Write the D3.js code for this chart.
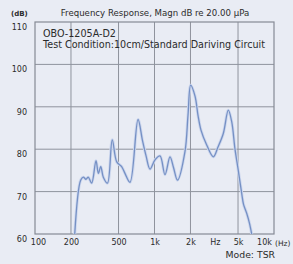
<!DOCTYPE html>
<html>
<head>
<meta charset="utf-8">
<script src="https://cdn.jsdelivr.net/npm/d3@7"></script>
<style>
    body { margin: 0; background: #e9ecf4; }
    text { font-family: "DejaVu Sans", sans-serif; fill: #2b2b2b; }
</style>
</head>
<body>
<svg id="chart"></svg>
<script>
"use strict";

// frequency response
const freqs = [214, 241, 254, 267, 279, 298, 324, 339, 355, 373, 404, 443, 483, 531, 566, 624,
    728, 794, 849, 917, 1010, 1112, 1224, 1348, 1442, 1557, 1800, 1907, 2009, 2183, 2312, 2449,
    2734, 3105, 3398, 3765, 4146, 4426, 4717, 5025, 5367, 5559, 5908, 6237, 6607]
const levels = [59, 72.7, 73.4, 72.9, 73.4, 72.0, 77.3, 74.3, 75.9, 73.4, 72.0, 82.2, 77.0, 75.9, 74.3, 72.2,
    87.0, 82.0, 78.5, 75.3, 77.5, 78.4, 74.0, 78.2, 75.7, 72.7, 79.5, 88.0, 95.1, 92.5, 88.0, 84.5,
    81.0, 78.2, 80.5, 83.7, 89.2, 86.5, 80.0, 75.0, 69.6, 67.0, 64.9, 62.5, 59]

const gridFreqs = [200, 500, 1000, 2000, 5000]
const gridLevels = [70, 80, 90, 100]
const yTicks = [60, 70, 80, 90, 100, 110]
const xTickFreqs = [100, 200, 500, 1000, 2000, 3200, 5000, 10000]
const xTickLabels = ["100", "200", "500", "1k", "2k", "Hz", "5k", "10k"]

const width = 293
const height = 264

const svg = d3.select("#chart")
    .attr("width", width)
    .attr("height", height)

svg.append("rect")
    .attr("width", width)
    .attr("height", height)
    .attr("fill", "#e9ecf4")

// scales
const x = d3.scaleLog().domain([100, 10000]).range([35, 274])
const y = d3.scaleLinear().domain([60, 110]).range([234, 22])

// grid
svg.append("g")
    .selectAll("line")
    .data(gridFreqs)
    .enter().append("line")
    .attr("x1", d => x(d))
    .attr("x2", d => x(d))
    .attr("y1", y(110))
    .attr("y2", y(60))
    .attr("stroke", "#8f939d")
    .attr("stroke-width", 1)

svg.append("g")
    .selectAll("line")
    .data(gridLevels)
    .enter().append("line")
    .attr("x1", x(100))
    .attr("x2", x(10000))
    .attr("y1", d => y(d))
    .attr("y2", d => y(d))
    .attr("stroke", "#8f939d")
    .attr("stroke-width", 1)

// frame
svg.append("rect")
    .attr("x", x(100))
    .attr("y", y(110))
    .attr("width", x(10000) - x(100))
    .attr("height", y(60) - y(110))
    .attr("fill", "none")
    .attr("stroke", "#868a94")
    .attr("stroke-width", 1.2)

// clip for the curve
svg.append("clipPath")
    .attr("id", "plot-clip")
    .append("rect")
    .attr("x", x(100))
    .attr("y", y(110))
    .attr("width", x(10000) - x(100))
    .attr("height", y(60) - y(110))

const points = freqs.map((f, i) => ({ f: f, db: levels[i] }))
const lineGen = d3.line()
    .x(d => x(d.f))
    .y(d => y(d.db))
    .curve(d3.curveCatmullRom.alpha(0.5))

const curve = svg.append("g").attr("clip-path", "url(#plot-clip)")
curve.append("path")
    .datum(points)
    .attr("fill", "none")
    .attr("stroke", "#cdd7ee")
    .attr("stroke-width", 3)
    .attr("d", lineGen)
curve.append("path")
    .datum(points)
    .attr("fill", "none")
    .attr("stroke", "#7590c4")
    .attr("stroke-width", 1.3)
    .attr("d", lineGen)

// y axis labels
svg.append("g")
    .selectAll("text")
    .data(yTicks)
    .enter().append("text")
    .attr("x", 27)
    .attr("y", d => y(d) + 8)
    .attr("text-anchor", "end")
    .attr("font-size", 8)
    .text(d => d)

// x axis labels
const xAxis = svg.append("g")
    .attr("transform", "translate(0," + y(60) + ")")
    .call(d3.axisBottom(x).tickValues(xTickFreqs).tickFormat((d, i) => xTickLabels[i]).tickSize(0).tickPadding(5))
xAxis.select(".domain").remove()
xAxis.selectAll("text")
    .attr("font-size", 8)
    .attr("font-family", "DejaVu Sans, sans-serif")
    .attr("fill", "#2b2b2b")
    .attr("dx", (d, i) => i === 0 ? 3 : (i === xTickFreqs.length - 1 ? -10 : 0))

svg.append("text")
    .attr("x", 275)
    .attr("y", 246)
    .attr("font-size", 7.5)
    .text("(Hz)")

svg.append("text")
    .attr("x", 275)
    .attr("y", 258)
    .attr("text-anchor", "end")
    .attr("font-size", 9.3)
    .text("Mode: TSR")

// titles
svg.append("text")
    .attr("x", 11)
    .attr("y", 16)
    .attr("font-size", 7)
    .attr("font-weight", "bold")
    .text("(dB)")

svg.append("text")
    .attr("x", 155)
    .attr("y", 16)
    .attr("text-anchor", "middle")
    .attr("font-size", 8.6)
    .text("Frequency Response, Magn dB re 20.00 \u00b5Pa")

svg.append("text")
    .attr("x", 43)
    .attr("y", 37)
    .attr("font-size", 9.6)
    .text("OBO-1205A-D2")

svg.append("text")
    .attr("x", 43)
    .attr("y", 48)
    .attr("font-size", 9.6)
    .text("Test Condition:10cm/Standard Dariving Circuit")
</script>
</body>
</html>
